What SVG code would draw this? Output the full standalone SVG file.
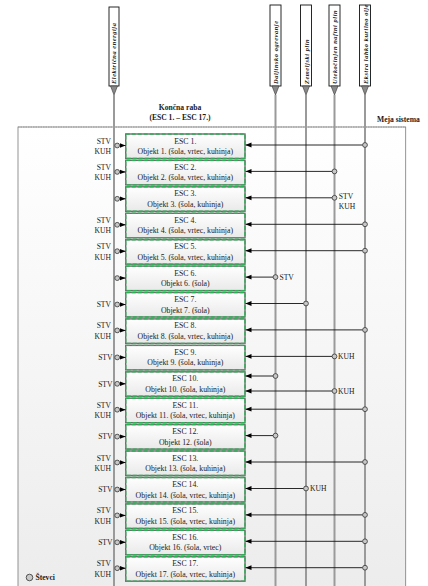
<svg xmlns="http://www.w3.org/2000/svg" width="428" height="586" viewBox="0 0 428 586">
<defs>
<linearGradient id="gFrame" x1="0" y1="0" x2="0" y2="1"><stop offset="0" stop-color="#ffffff"/><stop offset="1" stop-color="#ececec"/></linearGradient>
<linearGradient id="gBox" x1="0" y1="0" x2="0" y2="1"><stop offset="0" stop-color="#ffffff"/><stop offset="1" stop-color="#e9e9e9"/></linearGradient>
<marker id="ah" viewBox="0 0 6 6" refX="6" refY="3" markerWidth="6" markerHeight="6" markerUnits="userSpaceOnUse" orient="auto"><path d="M0,0.6 L6,3 L0,5.4 Z" fill="#000"/></marker>
</defs>
<style>
text{font-family:"Liberation Serif","Times New Roman",serif;fill:#1a1a1a}
.vt{font-size:6.4px;font-style:italic;font-weight:bold;letter-spacing:0.55px}
.hd{font-size:7.6px;font-weight:bold}
.bt{font-size:7.8px;text-anchor:middle}
.lb{font-size:7.6px}
.lbe{font-size:7.6px;text-anchor:end}
.src{fill:#fff;stroke:#111;stroke-width:0.9}
.tri{fill:#8a8a8a;stroke:#333;stroke-width:0.6}
.vl{stroke:#9a9a9a;stroke-width:2;fill:none}
.bx{fill:url(#gBox);stroke:#6e6e6e;stroke-width:1.4}
.bxd{fill:none;stroke:#2eaf55;stroke-width:1.4;stroke-dasharray:4 2}
.cn{stroke:#111;stroke-width:0.9;fill:none;marker-end:url(#ah)}
.ct{fill:#c8c8c8;stroke:#333;stroke-width:0.8}
</style>

<g id="frame">
<rect x="18" y="127" width="387.7" height="470" fill="url(#gFrame)" stroke="#7a7a7a" stroke-width="0.8"/>
<line x1="18" y1="127" x2="405.7" y2="127" stroke="#9a9a9a" stroke-width="1" stroke-dasharray="1.5 1"/>
</g>

<g id="header">
<text class="hd" x="180" y="110" text-anchor="middle">Končna raba</text>
<text class="hd" x="180" y="120" text-anchor="middle">(ESC 1. – ESC 17.)</text>
<text class="hd" x="377" y="122">Meja sistema</text>
</g>

<g id="src-elektrika">
<rect class="src" x="109" y="7" width="10" height="79"/>
<path class="tri" d="M110.5,86 L117.5,86 L114,95 Z"/>
<line class="vl" x1="114" y1="95" x2="114" y2="586"/>
<text class="vt" transform="translate(116.4,84) rotate(-90)">Električna energija</text>
</g>
<g id="src-daljinsko">
<rect class="src" x="270" y="5" width="11" height="81"/>
<path class="tri" d="M272,86 L279,86 L275.5,95 Z"/>
<line class="vl" x1="275.5" y1="95" x2="275.5" y2="586"/>
<text class="vt" transform="translate(278,84) rotate(-90)">Daljinsko ogrevanje</text>
</g>
<g id="src-zemeljski">
<rect class="src" x="300.5" y="5" width="11" height="81"/>
<path class="tri" d="M302.5,86 L309.5,86 L306,95 Z"/>
<line class="vl" x1="306" y1="95" x2="306" y2="586"/>
<text class="vt" transform="translate(308.5,84) rotate(-90)">Zemeljski plin</text>
</g>
<g id="src-utekocinjen">
<rect class="src" x="329" y="5" width="11" height="81"/>
<path class="tri" d="M331,86 L338,86 L334.5,95 Z"/>
<line class="vl" x1="334.5" y1="95" x2="334.5" y2="586"/>
<text class="vt" transform="translate(337,84) rotate(-90)">Utekočinjen naftni plin</text>
</g>
<g id="src-ekstra">
<rect class="src" x="359.5" y="5" width="11" height="81"/>
<path class="tri" d="M361.5,86 L368.5,86 L365,95 Z"/>
<line class="vl" x1="365" y1="95" x2="365" y2="586"/>
<text class="vt" transform="translate(367.5,84) rotate(-90)">Ekstra lahko kurilno olje</text>
</g>

<g id="esc1" transform="translate(125.7,134)"><rect class="bx" width="119.3" height="24.5"/><rect class="bxd" width="119.3" height="24.5"/><text class="bt" x="59.6" y="9.5">ESC 1.</text><text class="bt" x="59.6" y="20">Objekt 1. (šola, vrtec, kuhinja)</text></g>
<g id="esc2" transform="translate(125.7,160.4)"><rect class="bx" width="119.3" height="24.5"/><rect class="bxd" width="119.3" height="24.5"/><text class="bt" x="59.6" y="9.5">ESC 2.</text><text class="bt" x="59.6" y="20">Objekt 2. (šola, vrtec, kuhinja)</text></g>
<g id="esc3" transform="translate(125.7,186.8)"><rect class="bx" width="119.3" height="24.5"/><rect class="bxd" width="119.3" height="24.5"/><text class="bt" x="59.6" y="9.5">ESC 3.</text><text class="bt" x="59.6" y="20">Objekt 3. (šola, kuhinja)</text></g>
<g id="esc4" transform="translate(125.7,213.3)"><rect class="bx" width="119.3" height="24.5"/><rect class="bxd" width="119.3" height="24.5"/><text class="bt" x="59.6" y="9.5">ESC 4.</text><text class="bt" x="59.6" y="20">Objekt 4. (šola, vrtec, kuhinja)</text></g>
<g id="esc5" transform="translate(125.7,239.7)"><rect class="bx" width="119.3" height="24.5"/><rect class="bxd" width="119.3" height="24.5"/><text class="bt" x="59.6" y="9.5">ESC 5.</text><text class="bt" x="59.6" y="20">Objekt 5. (šola, vrtec, kuhinja)</text></g>
<g id="esc6" transform="translate(125.7,266.1)"><rect class="bx" width="119.3" height="24.5"/><rect class="bxd" width="119.3" height="24.5"/><text class="bt" x="59.6" y="9.5">ESC 6.</text><text class="bt" x="59.6" y="20">Objekt 6. (šola)</text></g>
<g id="esc7" transform="translate(125.7,292.5)"><rect class="bx" width="119.3" height="24.5"/><rect class="bxd" width="119.3" height="24.5"/><text class="bt" x="59.6" y="9.5">ESC 7.</text><text class="bt" x="59.6" y="20">Objekt 7. (šola)</text></g>
<g id="esc8" transform="translate(125.7,318.9)"><rect class="bx" width="119.3" height="24.5"/><rect class="bxd" width="119.3" height="24.5"/><text class="bt" x="59.6" y="9.5">ESC 8.</text><text class="bt" x="59.6" y="20">Objekt 8. (šola, vrtec, kuhinja)</text></g>
<g id="esc9" transform="translate(125.7,345.4)"><rect class="bx" width="119.3" height="24.5"/><rect class="bxd" width="119.3" height="24.5"/><text class="bt" x="59.6" y="9.5">ESC 9.</text><text class="bt" x="59.6" y="20">Objekt 9. (šola, kuhinja)</text></g>
<g id="esc10" transform="translate(125.7,371.8)"><rect class="bx" width="119.3" height="24.5"/><rect class="bxd" width="119.3" height="24.5"/><text class="bt" x="59.6" y="9.5">ESC 10.</text><text class="bt" x="59.6" y="20">Objekt 10. (šola, kuhinja)</text></g>
<g id="esc11" transform="translate(125.7,398.2)"><rect class="bx" width="119.3" height="24.5"/><rect class="bxd" width="119.3" height="24.5"/><text class="bt" x="59.6" y="9.5">ESC 11.</text><text class="bt" x="59.6" y="20">Objekt 11. (šola, vrtec, kuhinja)</text></g>
<g id="esc12" transform="translate(125.7,424.6)"><rect class="bx" width="119.3" height="24.5"/><rect class="bxd" width="119.3" height="24.5"/><text class="bt" x="59.6" y="9.5">ESC 12.</text><text class="bt" x="59.6" y="20">Objekt 12. (šola)</text></g>
<g id="esc13" transform="translate(125.7,451)"><rect class="bx" width="119.3" height="24.5"/><rect class="bxd" width="119.3" height="24.5"/><text class="bt" x="59.6" y="9.5">ESC 13.</text><text class="bt" x="59.6" y="20">Objekt 13. (šola, kuhinja)</text></g>
<g id="esc14" transform="translate(125.7,477.5)"><rect class="bx" width="119.3" height="24.5"/><rect class="bxd" width="119.3" height="24.5"/><text class="bt" x="59.6" y="9.5">ESC 14.</text><text class="bt" x="59.6" y="20">Objekt 14. (šola, vrtec, kuhinja)</text></g>
<g id="esc15" transform="translate(125.7,503.9)"><rect class="bx" width="119.3" height="24.5"/><rect class="bxd" width="119.3" height="24.5"/><text class="bt" x="59.6" y="9.5">ESC 15.</text><text class="bt" x="59.6" y="20">Objekt 15. (šola, vrtec, kuhinja)</text></g>
<g id="esc16" transform="translate(125.7,530.3)"><rect class="bx" width="119.3" height="24.5"/><rect class="bxd" width="119.3" height="24.5"/><text class="bt" x="59.6" y="9.5">ESC 16.</text><text class="bt" x="59.6" y="20">Objekt 16. (šola, vrtec)</text></g>
<g id="esc17" transform="translate(125.7,556.7)"><rect class="bx" width="119.3" height="24.5"/><rect class="bxd" width="119.3" height="24.5"/><text class="bt" x="59.6" y="9.5">ESC 17.</text><text class="bt" x="59.6" y="20">Objekt 17. (šola, vrtec, kuhinja)</text></g>

<g id="connectors">
<!-- left: electricity -->
<line class="cn" x1="119.5" y1="145.5" x2="125.5" y2="145.5"/>
<line class="cn" x1="119.5" y1="171.9" x2="125.5" y2="171.9"/>
<line class="cn" x1="119.5" y1="198.8" x2="125.5" y2="198.8"/>
<line class="cn" x1="119.5" y1="224.8" x2="125.5" y2="224.8"/>
<line class="cn" x1="119.5" y1="251.2" x2="125.5" y2="251.2"/>
<line class="cn" x1="119.5" y1="278.1" x2="125.5" y2="278.1"/>
<line class="cn" x1="119.5" y1="304.5" x2="125.5" y2="304.5"/>
<line class="cn" x1="119.5" y1="330.4" x2="125.5" y2="330.4"/>
<line class="cn" x1="119.5" y1="357.4" x2="125.5" y2="357.4"/>
<line class="cn" x1="119.5" y1="383.8" x2="125.5" y2="383.8"/>
<line class="cn" x1="119.5" y1="409.7" x2="125.5" y2="409.7"/>
<line class="cn" x1="119.5" y1="436.6" x2="125.5" y2="436.6"/>
<line class="cn" x1="119.5" y1="462.5" x2="125.5" y2="462.5"/>
<line class="cn" x1="119.5" y1="489.5" x2="125.5" y2="489.5"/>
<line class="cn" x1="119.5" y1="515.4" x2="125.5" y2="515.4"/>
<line class="cn" x1="119.5" y1="542.3" x2="125.5" y2="542.3"/>
<line class="cn" x1="119.5" y1="568.2" x2="125.5" y2="568.2"/>
<!-- right: other sources -->
<line class="cn" x1="362.6" y1="145" x2="245.5" y2="145"/>
<line class="cn" x1="332.1" y1="171.4" x2="245.5" y2="171.4"/>
<line class="cn" x1="332.1" y1="197.8" x2="245.5" y2="197.8"/>
<line class="cn" x1="362.6" y1="224.3" x2="245.5" y2="224.3"/>
<line class="cn" x1="362.6" y1="250.7" x2="245.5" y2="250.7"/>
<line class="cn" x1="273.1" y1="277.1" x2="245.5" y2="277.1"/>
<line class="cn" x1="303.6" y1="303.5" x2="245.5" y2="303.5"/>
<line class="cn" x1="362.6" y1="329.9" x2="245.5" y2="329.9"/>
<line class="cn" x1="332.1" y1="356.4" x2="245.5" y2="356.4"/>
<line class="cn" x1="273.1" y1="376" x2="245.5" y2="376"/>
<line class="cn" x1="332.1" y1="391" x2="245.5" y2="391"/>
<line class="cn" x1="362.6" y1="409.2" x2="245.5" y2="409.2"/>
<line class="cn" x1="273.1" y1="435.6" x2="245.5" y2="435.6"/>
<line class="cn" x1="362.6" y1="462" x2="245.5" y2="462"/>
<line class="cn" x1="303.6" y1="488.5" x2="245.5" y2="488.5"/>
<line class="cn" x1="362.6" y1="514.9" x2="245.5" y2="514.9"/>
<line class="cn" x1="362.6" y1="541.3" x2="245.5" y2="541.3"/>
<line class="cn" x1="362.6" y1="567.7" x2="245.5" y2="567.7"/>
</g>

<g id="meters">
<circle class="ct" cx="117.2" cy="145.5" r="2.4"/>
<circle class="ct" cx="117.2" cy="171.9" r="2.4"/>
<circle class="ct" cx="117.2" cy="198.8" r="2.4"/>
<circle class="ct" cx="117.2" cy="224.8" r="2.4"/>
<circle class="ct" cx="117.2" cy="251.2" r="2.4"/>
<circle class="ct" cx="117.2" cy="278.1" r="2.4"/>
<circle class="ct" cx="117.2" cy="304.5" r="2.4"/>
<circle class="ct" cx="117.2" cy="330.4" r="2.4"/>
<circle class="ct" cx="117.2" cy="357.4" r="2.4"/>
<circle class="ct" cx="117.2" cy="383.8" r="2.4"/>
<circle class="ct" cx="117.2" cy="409.7" r="2.4"/>
<circle class="ct" cx="117.2" cy="436.6" r="2.4"/>
<circle class="ct" cx="117.2" cy="462.5" r="2.4"/>
<circle class="ct" cx="117.2" cy="489.5" r="2.4"/>
<circle class="ct" cx="117.2" cy="515.4" r="2.4"/>
<circle class="ct" cx="117.2" cy="542.3" r="2.4"/>
<circle class="ct" cx="117.2" cy="568.2" r="2.4"/>
<circle class="ct" cx="365" cy="145" r="2.4"/>
<circle class="ct" cx="334.5" cy="171.4" r="2.4"/>
<circle class="ct" cx="334.5" cy="197.8" r="2.4"/>
<circle class="ct" cx="365" cy="224.3" r="2.4"/>
<circle class="ct" cx="365" cy="250.7" r="2.4"/>
<circle class="ct" cx="275.5" cy="277.1" r="2.4"/>
<circle class="ct" cx="306" cy="303.5" r="2.4"/>
<circle class="ct" cx="365" cy="329.9" r="2.4"/>
<circle class="ct" cx="334.5" cy="356.4" r="2.4"/>
<circle class="ct" cx="275.5" cy="376" r="2.4"/>
<circle class="ct" cx="334.5" cy="391" r="2.4"/>
<circle class="ct" cx="365" cy="409.2" r="2.4"/>
<circle class="ct" cx="275.5" cy="435.6" r="2.4"/>
<circle class="ct" cx="365" cy="462" r="2.4"/>
<circle class="ct" cx="306" cy="488.5" r="2.4"/>
<circle class="ct" cx="365" cy="514.9" r="2.4"/>
<circle class="ct" cx="365" cy="541.3" r="2.4"/>
<circle class="ct" cx="365" cy="567.7" r="2.4"/>
</g>

<g id="labels">
<text class="lbe" x="111" y="143.5">STV</text><text class="lbe" x="111" y="154">KUH</text>
<text class="lbe" x="111" y="169.9">STV</text><text class="lbe" x="111" y="180.4">KUH</text>
<text class="lbe" x="111" y="222.8">STV</text><text class="lbe" x="111" y="233.3">KUH</text>
<text class="lbe" x="111" y="249.2">STV</text><text class="lbe" x="111" y="259.7">KUH</text>
<text class="lbe" x="111" y="307.3">STV</text>
<text class="lbe" x="111" y="328.4">STV</text><text class="lbe" x="111" y="338.9">KUH</text>
<text class="lbe" x="112.5" y="360.2">STV</text>
<text class="lbe" x="112.5" y="386.6">STV</text>
<text class="lbe" x="111" y="407.7">STV</text><text class="lbe" x="111" y="418.2">KUH</text>
<text class="lbe" x="112.5" y="439.4">STV</text>
<text class="lbe" x="111" y="460.5">STV</text><text class="lbe" x="111" y="471">KUH</text>
<text class="lbe" x="112.5" y="492.3">STV</text>
<text class="lbe" x="111" y="513.4">STV</text><text class="lbe" x="111" y="523.9">KUH</text>
<text class="lbe" x="112.5" y="545.1">STV</text>
<text class="lbe" x="111" y="566.2">STV</text><text class="lbe" x="111" y="576.7">KUH</text>
<text class="lb" x="338.8" y="199">STV</text><text class="lb" x="338.8" y="208.6">KUH</text>
<text class="lb" x="279.5" y="279.9">STV</text>
<text class="lb" x="338" y="359.2">KUH</text>
<text class="lb" x="338" y="393.8">KUH</text>
<text class="lb" x="310" y="491.3">KUH</text>
</g>

<g id="legend">
<circle class="ct" cx="29.5" cy="577.5" r="3.3"/>
<text class="hd" x="35.5" y="580.3">Števci</text>
</g>
</svg>
